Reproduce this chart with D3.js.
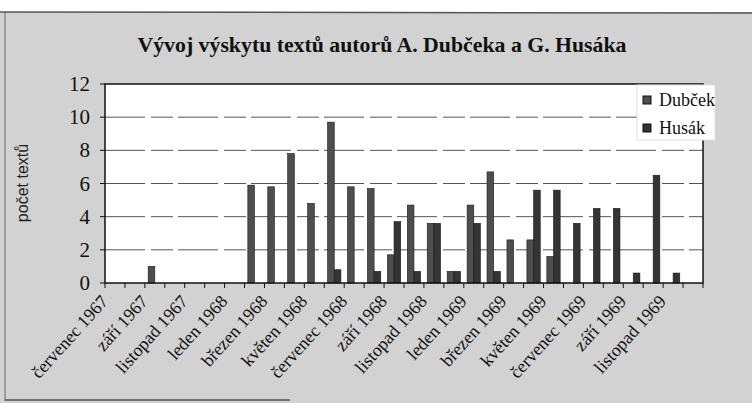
<!DOCTYPE html>
<html lang="cs">
<head>
    <meta charset="UTF-8">
    <title>Vývoj výskytu textů</title>
    <script src="https://d3js.org/d3.v7.min.js"></script>
    <style>
        body { margin: 0; background: #ffffff; }
        svg { display: block; }
    </style>
</head>
<body>
<script>
    var w = 752;
    var h = 403;

    // months Jul 1967 - Dec 1969
    var months = ["červenec 1967", "srpen 1967", "září 1967", "říjen 1967", "listopad 1967", "prosinec 1967",
        "leden 1968", "únor 1968", "březen 1968", "duben 1968", "květen 1968", "červen 1968",
        "červenec 1968", "srpen 1968", "září 1968", "říjen 1968", "listopad 1968", "prosinec 1968",
        "leden 1969", "únor 1969", "březen 1969", "duben 1969", "květen 1969", "červen 1969",
        "červenec 1969", "srpen 1969", "září 1969", "říjen 1969", "listopad 1969", "prosinec 1969"];
    var series = ["Dubček", "Husák"];
    var dubcek = [0, 0, 1.0, 0, 0, 0, 0, 5.9, 5.8, 7.8, 4.8, 9.7, 5.8, 5.7, 1.7, 4.7, 3.6, 0.7,
        4.7, 6.7, 2.6, 2.6, 1.6, 0, 0, 0, 0, 0, 0, 0];
    var husak = [0, 0, 0, 0, 0, 0, 0, 0, 0, 0, 0, 0.8, 0, 0.7, 3.7, 0.7, 3.6, 0.7,
        3.6, 0.7, 0, 5.6, 5.6, 3.6, 4.5, 4.5, 0.6, 6.5, 0.6, 0];
    var yTicks = [0, 2, 4, 6, 8, 10, 12];
    var colors = ["#4e4e4e", "#343434"];

    var plot = { left: 105, right: 703, top: 84, bottom: 283 };
    var serif = "'Liberation Serif', 'Times New Roman', serif";

    var svg = d3.select("body")
        .append("svg")
        .attr("width", w)
        .attr("height", h);

    // scanned page background
    svg.append("rect").attr("width", w).attr("height", h).attr("fill", "#d2d2d2");
    svg.append("rect").attr("width", w).attr("height", 12).attr("fill", "#ffffff");
    svg.append("line").attr("x1", 0).attr("x2", w).attr("y1", 12).attr("y2", 13)
        .attr("stroke", "#555").attr("stroke-width", 1.5);
    svg.append("line").attr("x1", 5).attr("x2", 5).attr("y1", 12).attr("y2", 401)
        .attr("stroke", "#666").attr("stroke-width", 1);
    svg.append("line").attr("x1", 5).attr("x2", 290).attr("y1", 400).attr("y2", 400)
        .attr("stroke", "#555").attr("stroke-width", 1.5);

    var xScale = d3.scaleBand()
        .domain(months)
        .range([plot.left, plot.right]);

    var xInner = d3.scaleBand()
        .domain(series)
        .range([3.3, xScale.bandwidth() - 3.3]);

    var yScale = d3.scaleLinear()
        .domain([0, 12])
        .range([plot.bottom, plot.top]);

    // plot area
    svg.append("rect")
        .attr("x", plot.left).attr("y", plot.top)
        .attr("width", plot.right - plot.left)
        .attr("height", plot.bottom - plot.top)
        .attr("fill", "#ffffff");

    // gridlines
    svg.selectAll("line.grid")
        .data(yTicks.slice(1, -1))
        .enter()
        .append("line")
        .attr("class", "grid")
        .attr("x1", plot.left).attr("x2", plot.right)
        .attr("y1", function(d) { return yScale(d); })
        .attr("y2", function(d) { return yScale(d); })
        .attr("stroke", "#555")
        .attr("stroke-width", 1)
        .attr("stroke-dasharray", "40,6,22,5");

    // bars
    var table = months.map(function(m, i) {
        return { month: m, values: [dubcek[i], husak[i]] };
    });

    var groups = svg.selectAll("g.month")
        .data(table)
        .enter()
        .append("g")
        .attr("class", "month")
        .attr("transform", function(d) { return "translate(" + xScale(d.month) + ",0)"; });

    groups.selectAll("rect")
        .data(function(d) {
            return series.map(function(s, j) { return { key: s, value: d.values[j], j: j }; })
                .filter(function(e) { return e.value > 0; });
        })
        .enter()
        .append("rect")
        .attr("x", function(d) { return xInner(d.key); })
        .attr("y", function(d) { return yScale(d.value); })
        .attr("width", xInner.bandwidth())
        .attr("height", function(d) { return yScale(0) - yScale(d.value); })
        .attr("fill", function(d) { return colors[d.j]; })
        .attr("stroke", "#1a1a1a")
        .attr("stroke-width", 0.6);

    // plot border
    svg.append("rect")
        .attr("x", plot.left).attr("y", plot.top)
        .attr("width", plot.right - plot.left)
        .attr("height", plot.bottom - plot.top)
        .attr("fill", "none")
        .attr("stroke", "#111")
        .attr("stroke-width", 1.5);

    // y axis ticks and labels
    svg.selectAll("line.ytick")
        .data(yTicks)
        .enter()
        .append("line")
        .attr("class", "ytick")
        .attr("x1", plot.left - 5).attr("x2", plot.left)
        .attr("y1", function(d) { return yScale(d); })
        .attr("y2", function(d) { return yScale(d); })
        .attr("stroke", "#111");

    svg.selectAll("text.ylab")
        .data(yTicks)
        .enter()
        .append("text")
        .attr("class", "ylab")
        .attr("x", 90)
        .attr("y", function(d) { return yScale(d) + 7; })
        .attr("text-anchor", "end")
        .style("font-family", serif)
        .style("font-size", "21px")
        .attr("fill", "#111")
        .text(function(d) { return d; });

    // x axis ticks at category boundaries
    svg.selectAll("line.xtick")
        .data(months.concat(["end"]))
        .enter()
        .append("line")
        .attr("class", "xtick")
        .attr("x1", function(d, i) { return plot.left + i * xScale.step(); })
        .attr("x2", function(d, i) { return plot.left + i * xScale.step(); })
        .attr("y1", plot.bottom).attr("y2", plot.bottom + 5)
        .attr("stroke", "#111");

    // x labels, every second month
    svg.selectAll("text.xlab")
        .data(months.filter(function(d, i) { return i % 2 === 0; }))
        .enter()
        .append("text")
        .attr("class", "xlab")
        .attr("transform", function(d) {
            var cx = xScale(d) + xScale.bandwidth() / 2;
            return "translate(" + (cx - 6) + "," + (plot.bottom + 19) + ") rotate(-48)";
        })
        .attr("text-anchor", "end")
        .style("font-family", serif)
        .style("font-size", "18px")
        .attr("fill", "#111")
        .text(function(d) { return d; });

    // titles
    svg.append("text")
        .attr("x", 382).attr("y", 52)
        .attr("text-anchor", "middle")
        .style("font-family", serif)
        .style("font-weight", "bold")
        .style("font-size", "21px")
        .attr("textLength", 489)
        .attr("lengthAdjust", "spacingAndGlyphs")
        .attr("fill", "#111")
        .text("Vývoj výskytu textů autorů A. Dubčeka a G. Husáka");

    svg.append("text")
        .attr("transform", "translate(28,183) rotate(-90)")
        .attr("text-anchor", "middle")
        .style("font-family", "'Liberation Sans', Arial, sans-serif")
        .style("font-size", "16px")
        .attr("fill", "#222")
        .text("počet textů");

    // legend
    var legend = svg.append("g").attr("transform", "translate(637,85)");
    legend.append("rect")
        .attr("width", 78).attr("height", 55)
        .attr("fill", "#ffffff")
        .attr("stroke", "#e0e0e0");
    legend.selectAll("rect.sw")
        .data(series)
        .enter()
        .append("rect")
        .attr("class", "sw")
        .attr("x", 6)
        .attr("y", function(d, i) { return 11 + i * 28; })
        .attr("width", 8).attr("height", 8)
        .attr("fill", function(d, i) { return colors[i]; })
        .attr("stroke", "#111");
    legend.selectAll("text.lg")
        .data(series)
        .enter()
        .append("text")
        .attr("class", "lg")
        .attr("x", 22)
        .attr("y", function(d, i) { return 21 + i * 28; })
        .style("font-family", serif)
        .style("font-size", "18px")
        .attr("fill", "#111")
        .text(function(d) { return d; });
</script>
</body>
</html>
